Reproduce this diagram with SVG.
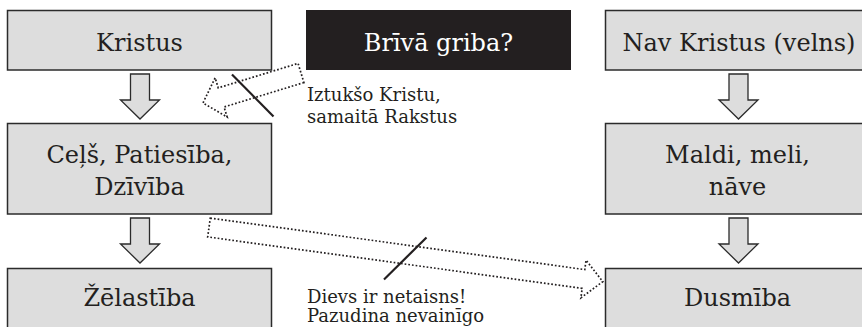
<svg xmlns="http://www.w3.org/2000/svg" width="862" height="327" viewBox="0 0 862 327">
<defs>
<style>
.box{fill:#dddddd;stroke:#2b2b2b;stroke-width:1.5}
.dark{fill:#231f20}
.t{font-family:"DejaVu Serif","Liberation Serif",serif;font-size:24px;fill:#231f20;text-anchor:middle}
.tw{font-family:"DejaVu Serif","Liberation Serif",serif;font-size:24px;fill:#ffffff;text-anchor:middle}
.lbl{font-family:"DejaVu Serif","Liberation Serif",serif;font-size:18px;fill:#231f20}
.harrow{fill:#dddddd;stroke:#2b2b2b;stroke-width:1.3;stroke-linejoin:miter}
.darrow{fill:none;stroke:#231f20;stroke-width:1.7;stroke-dasharray:1.7 2}
.strike{stroke:#231f20;stroke-width:2.2;fill:none}
</style>
<path id="ha" d="M-9.5,0 L9.5,0 L9.5,26 L19.5,26 L0,45 L-19.5,26 L-9.5,26 Z"/>
</defs>
<rect width="862" height="327" fill="#ffffff"/>
<g id="node-kristus">
<rect class="box" x="7.5" y="10.5" width="264" height="59.5"/>
<text class="t" x="139.5" y="50.5">Kristus</text>
</g>
<g id="node-brivagriba">
<rect class="dark" x="306" y="10" width="265" height="60"/>
<text class="tw" x="438.5" y="50.5">Brīvā griba?</text>
</g>
<g id="node-navkristus">
<rect class="box" x="605.5" y="10.5" width="265" height="59.5"/>
<text class="t" x="739" y="50.5">Nav Kristus (velns)</text>
</g>
<g id="node-cels">
<rect class="box" x="7.5" y="123.5" width="264" height="90.5"/>
<text class="t" x="139.5" y="163">Ceļš, Patiesība,</text>
<text class="t" x="139.5" y="195">Dzīvība</text>
</g>
<g id="node-maldi">
<rect class="box" x="605.5" y="123.5" width="265" height="90.5"/>
<text class="t" x="737.5" y="163">Maldi, meli,</text>
<text class="t" x="737.5" y="195">nāve</text>
</g>
<g id="node-zelastiba">
<rect class="box" x="7.5" y="268.5" width="264" height="70"/>
<text class="t" x="139.5" y="305.5">Žēlastība</text>
</g>
<g id="node-dusmiba">
<rect class="box" x="605.5" y="268.5" width="265" height="70"/>
<text class="t" x="737.5" y="305.5">Dusmība</text>
</g>
<g id="connectors">
<use href="#ha" class="harrow" transform="translate(140,74)"/>
<use href="#ha" class="harrow" transform="translate(140,218)"/>
<use href="#ha" class="harrow" transform="translate(738.5,74)"/>
<use href="#ha" class="harrow" transform="translate(738.5,218)"/>
<path class="darrow" transform="translate(301,73) rotate(163)" d="M0,-10 L83.5,-10 L83.5,-20.5 L102.5,0 L83.5,20.5 L83.5,10 L0,10 Z"/>
<line class="strike" x1="232" x2="273.5" y1="74.5" y2="116.5"/>
<path class="darrow" transform="translate(209,227.5) rotate(7.83)" d="M0,-9.5 L378,-9.5 L378,-19 L397.5,0 L378,19 L378,9.5 L0,9.5 Z"/>
<line class="strike" x1="384" x2="426.5" y1="279.5" y2="237.5"/>
</g>
<g id="labels">
<text class="lbl" x="307" y="302.5">Dievs ir netaisns!</text>
<text class="lbl" x="307" y="322">Pazudina nevainīgo</text>
<text class="lbl" x="307" y="100.5">Iztukšo Kristu,</text>
<text class="lbl" x="307" y="122.5">samaitā Rakstus</text>
</g>
</svg>
